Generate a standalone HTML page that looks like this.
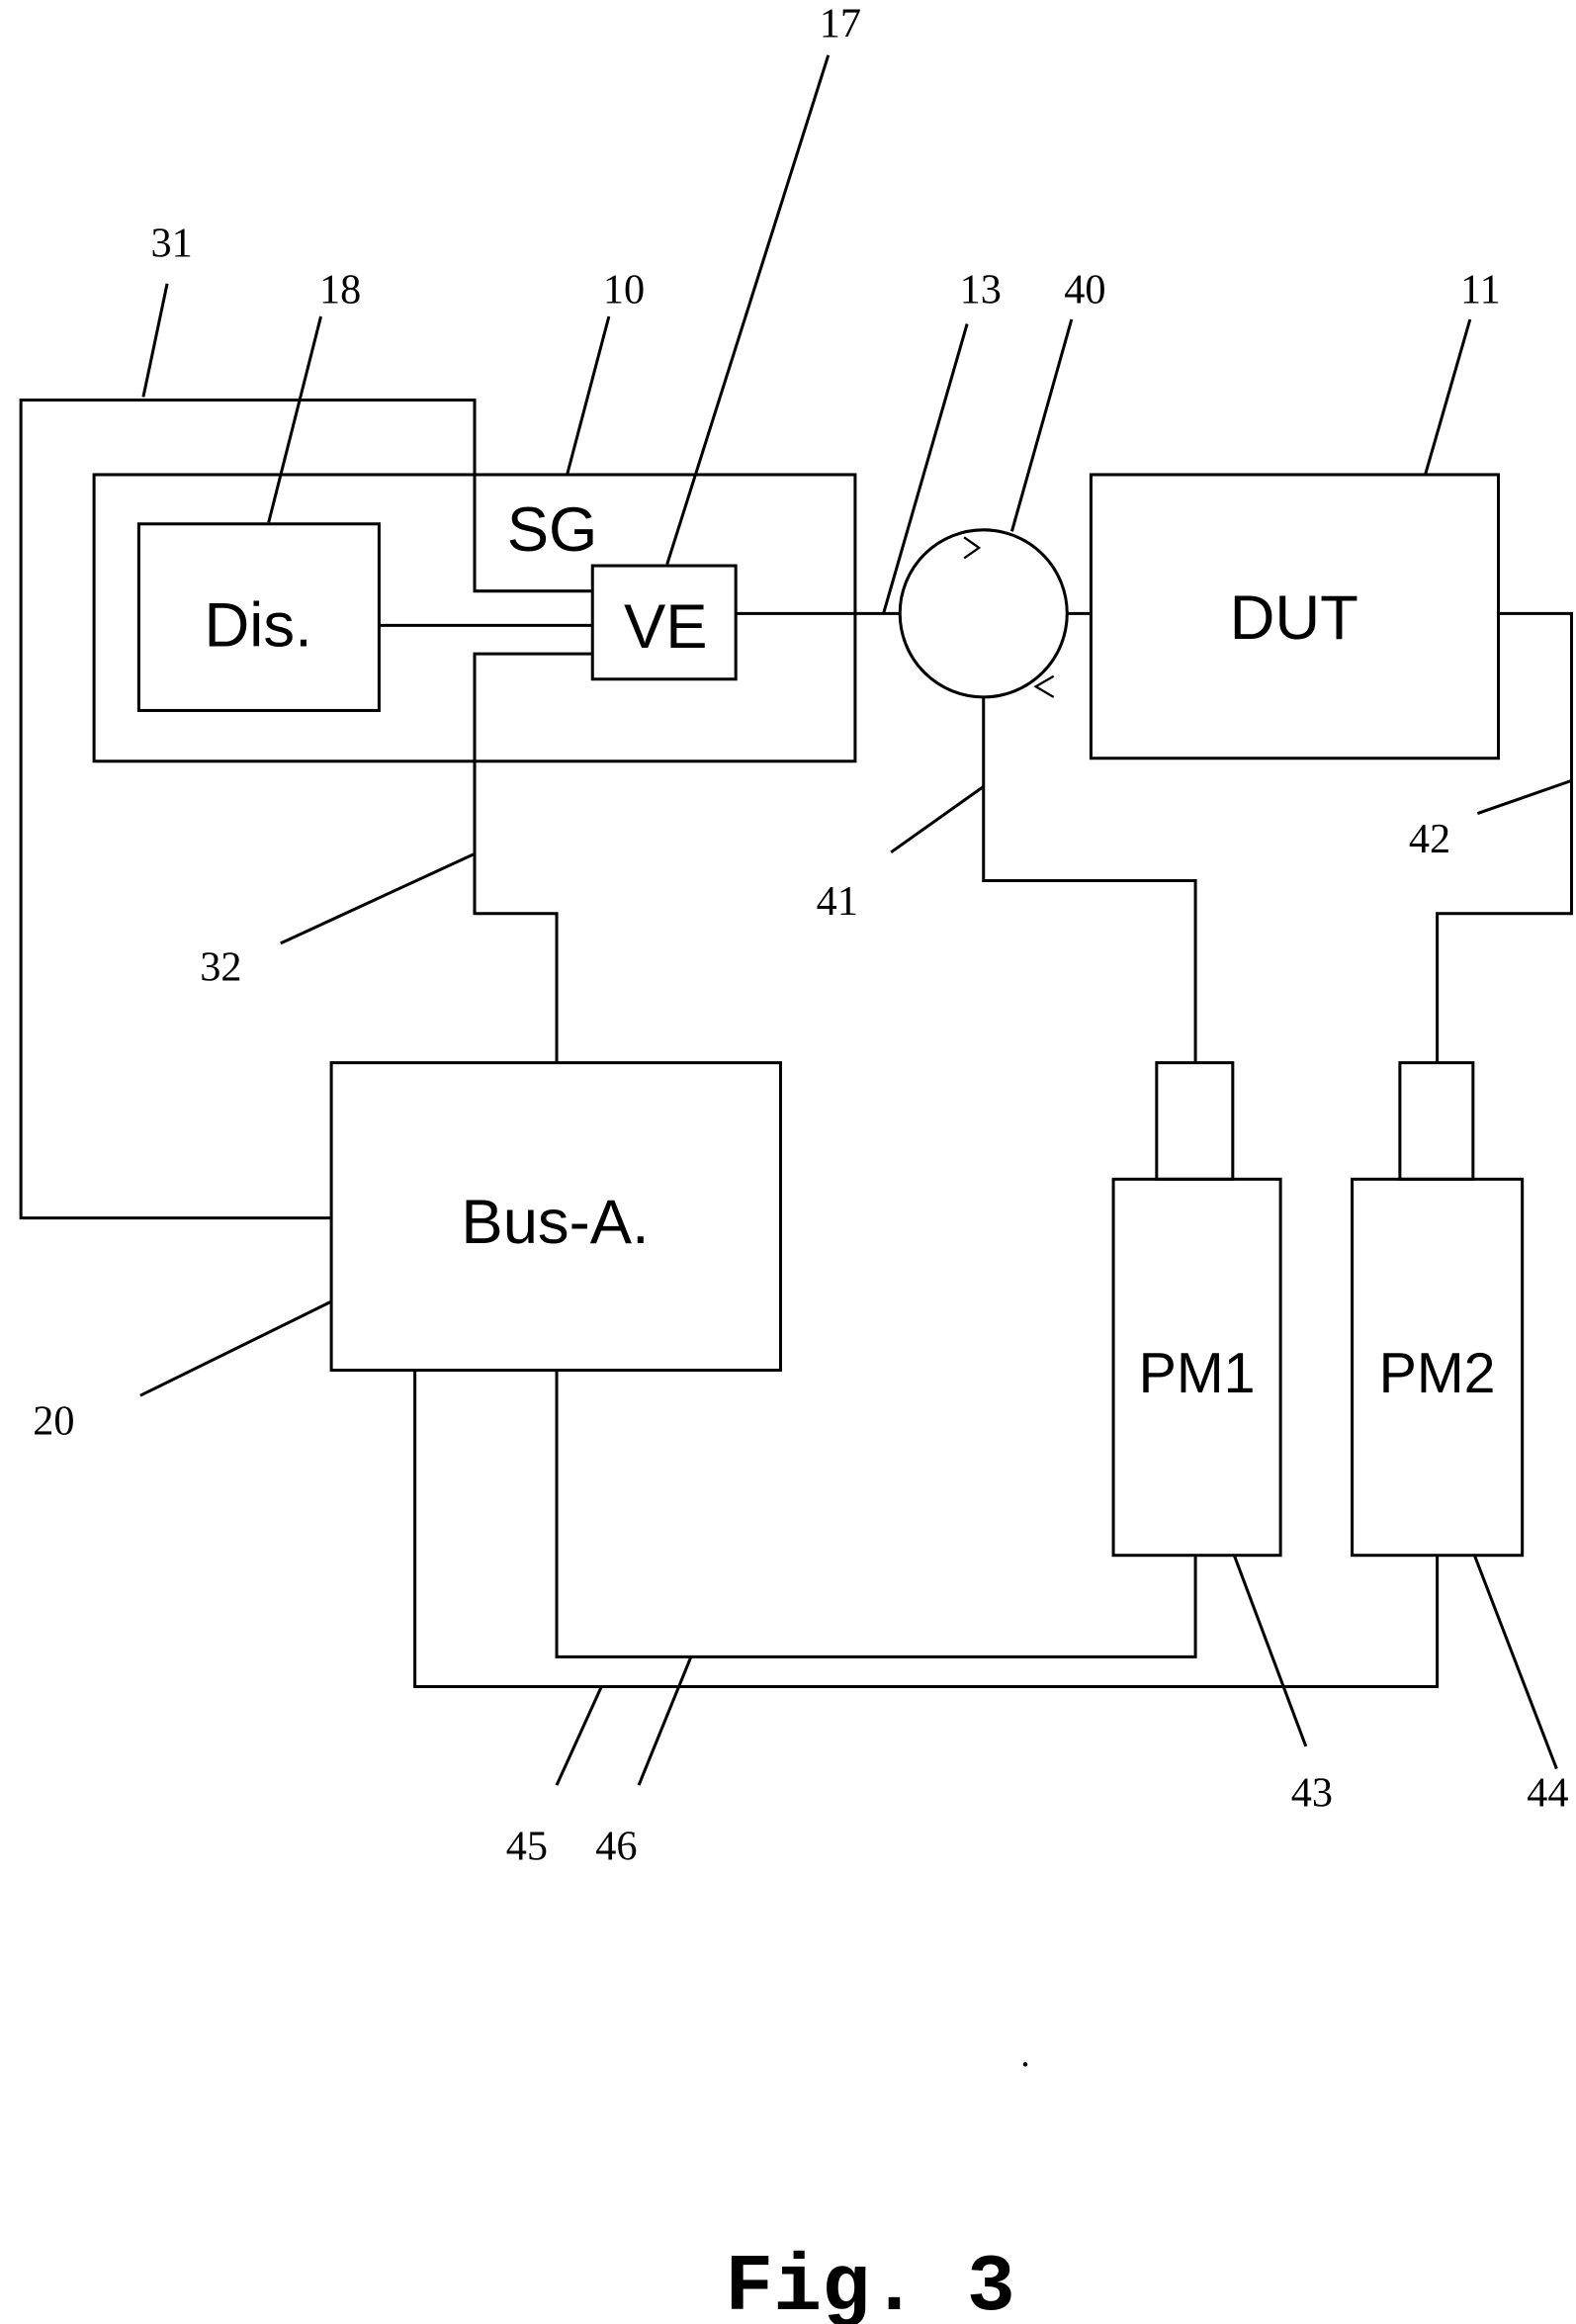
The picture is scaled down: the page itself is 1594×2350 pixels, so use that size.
<!DOCTYPE html>
<html><head><style>html,body{margin:0;padding:0;background:#fff}svg{display:block}</style></head>
<body>
<svg width="1594" height="2350" viewBox="0 0 1056 1557" preserveAspectRatio="none" xmlns="http://www.w3.org/2000/svg">
<g fill="none" stroke="#000" stroke-width="2">
<polyline points="397,396 318,396 318,268 14,268 14,816 222,816"/>
<rect x="63" y="318" width="510" height="192"/>
<rect x="93" y="351" width="161" height="125"/>
<rect x="397" y="379" width="96" height="76"/>
<line x1="254" y1="419" x2="397" y2="419"/>
<polyline points="397,438 318,438 318,612 373,612 373,712"/>
<line x1="493" y1="411" x2="603" y2="411"/>
<circle cx="659" cy="411" r="56"/>
<line x1="715" y1="411" x2="731" y2="411"/>
<rect x="731" y="318" width="273" height="190"/>
<polyline points="1004,411 1053,411 1053,612 963,612 963,712"/>
<polyline points="659,467 659,590 801,590 801,712"/>
<rect x="775" y="712" width="51" height="78"/>
<rect x="746" y="790" width="112" height="252"/>
<rect x="938" y="712" width="49" height="78"/>
<rect x="906" y="790" width="114" height="252"/>
<rect x="222" y="712" width="301" height="206"/>
<polyline points="373,918 373,1110 801,1110 801,1042"/>
<polyline points="278,918 278,1130 963,1130 963,1042"/>
<polyline points="646,360 656,367 646,374" stroke-width="1.5"/>
<polyline points="706,453 694,460 706,467" stroke-width="1.5"/>
<line x1="96" y1="266" x2="112" y2="190"/>
<line x1="180" y1="350" x2="215" y2="212"/>
<line x1="380" y1="318" x2="408" y2="212"/>
<line x1="447" y1="378" x2="555" y2="37"/>
<line x1="592" y1="411" x2="648" y2="217"/>
<line x1="678" y1="356" x2="718" y2="214"/>
<line x1="955" y1="318" x2="985" y2="214"/>
<line x1="597" y1="571" x2="659" y2="527"/>
<line x1="990" y1="545" x2="1053" y2="523"/>
<line x1="188" y1="632" x2="318" y2="572"/>
<line x1="94" y1="935" x2="222" y2="872"/>
<line x1="875" y1="1170" x2="827" y2="1042"/>
<line x1="1043" y1="1185" x2="988" y2="1042"/>
<line x1="373" y1="1196" x2="403" y2="1130"/>
<line x1="428" y1="1196" x2="463" y2="1110"/>
</g>
<circle cx="687" cy="1383" r="1.5" fill="#000"/>
<g font-family="Liberation Sans, sans-serif" font-size="42" text-anchor="middle" fill="#000">
<text x="370" y="369">SG</text>
<text x="173" y="433">Dis.</text>
<text x="446" y="434">VE</text>
<text x="867" y="428">DUT</text>
<text x="372" y="833">Bus-A.</text>
<text x="802" y="933" font-size="38">PM1</text>
<text x="963" y="933" font-size="38">PM2</text>
</g>
<g font-family="Liberation Serif, serif" font-size="28" text-anchor="middle" fill="#000">
<text x="115" y="172">31</text>
<text x="228" y="203">18</text>
<text x="418" y="203">10</text>
<text x="563" y="25">17</text>
<text x="657" y="203">13</text>
<text x="727" y="203">40</text>
<text x="992" y="203">11</text>
<text x="561" y="613">41</text>
<text x="958" y="571">42</text>
<text x="148" y="657">32</text>
<text x="36" y="961">20</text>
<text x="879" y="1210">43</text>
<text x="1037" y="1210">44</text>
<text x="353" y="1246">45</text>
<text x="413" y="1246">46</text>
</g>
<text x="583" y="1547" font-family="Liberation Mono, monospace" font-weight="bold" font-size="54" text-anchor="middle">Fig. 3</text>
</svg>
</body></html>
